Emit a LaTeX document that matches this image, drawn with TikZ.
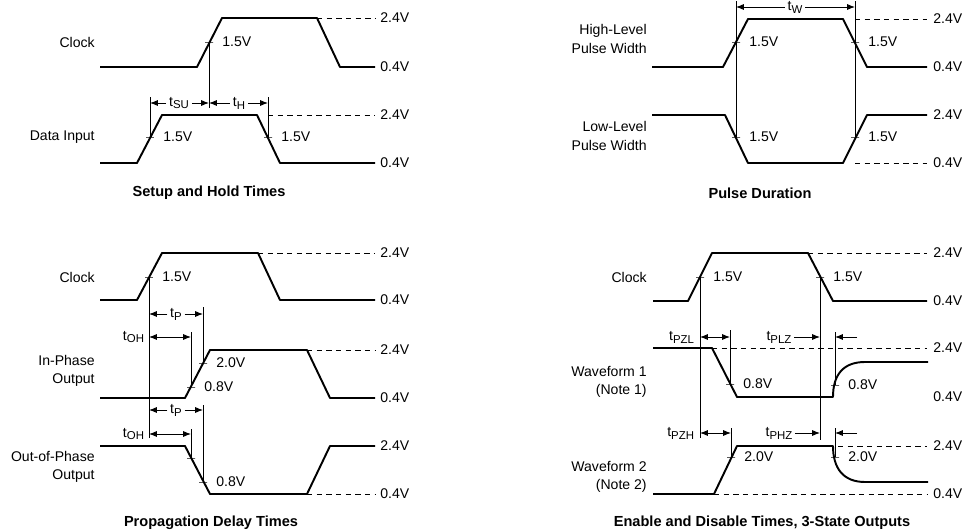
\documentclass[tikz,border=0pt]{standalone}
\usepackage{fontspec}
\setmainfont{Liberation Sans}
\usetikzlibrary{arrows.meta,calc}

\newcommand{\tsub}[1]{t\raisebox{-0.4ex}{\fontsize{6.5}{7}\selectfont #1}}

\tikzstyle{wave}=[line width=1.1pt,line join=round]
\tikzstyle{guide}=[line width=0.5pt]
\tikzstyle{refline}=[line width=0.5pt,dash pattern=on 3pt off 2.5pt]
\tikzstyle{tick}=[draw,line width=0.5pt,rectangle,minimum width=0.16cm,minimum height=0pt,inner sep=0pt]
\tikzstyle{volt}=[anchor=west,inner sep=0pt]
\tikzstyle{sig}=[anchor=east,align=right,inner sep=0pt]
\tikzstyle{dimlbl}=[inner sep=1.5pt]
\tikzstyle{dim}=[line width=0.5pt,-{Latex[length=4.5pt,width=3.5pt]}]
\tikzstyle{dimboth}=[line width=0.5pt,{Latex[length=4.5pt,width=3.5pt]}-{Latex[length=4.5pt,width=3.5pt]}]
\tikzstyle{title}=[font=\fontsize{8.3}{10}\selectfont\bfseries]

\begin{document}
\begin{tikzpicture}[x=0.02cm,y=-0.02cm,font=\fontsize{8}{10.5}\selectfont,label distance=1.5pt]
    \useasboundingbox (0,0) rectangle (965,531);

    % Setup and Hold Times
    \draw[wave] (100,67) -- (197,67) -- (222,18) -- (317,18) -- (340,67) -- (375,67);
    \draw[refline] (317,18) -- (375,18);
    \node[volt] (sv1) at (380,18) {2.4V};
    \node[volt] (sv2) at (380,67) {0.4V};
    \node[sig] (sclk) at (95,42) {Clock};
    \node[tick,label=right:1.5V] (ck1) at (209,42) {};
    \draw[guide] (ck1.center) -- ++(0,66);

    \draw[wave] (100,163) -- (137,163) -- (162,115) -- (257,115) -- (280,163) -- (375,163);
    \draw[refline] (268,115) -- (375,115);
    \node[volt] (sv3) at (380,115) {2.4V};
    \node[volt] (sv4) at (380,163) {0.4V};
    \node[sig] (sdin) at (95,137) {Data Input};
    \node[tick,label=right:1.5V] (dt1) at (150,137) {};
    \node[tick,label=right:1.5V] (dt2) at (268,137) {};
    \draw[guide] (dt1.center) -- ++(0,-40);
    \draw[guide] (dt2.center) -- ++(0,-40);
    \node[dimlbl] (tsu) at (179,103) {\tsub{SU}};
    \draw[dim] (tsu) -- (tsu -| dt1);
    \draw[dim] (tsu) -- (tsu -| ck1);
    \node[dimlbl] (th) at (239,103) {\tsub{H}};
    \draw[dim] (th) -- (th -| ck1);
    \draw[dim] (th) -- (th -| dt2);
    \node[title] (st) at (209,193) {Setup and Hold Times};

    % Pulse Duration
    \draw[wave] (652,67) -- (723,67) -- (748,19) -- (843,19) -- (867,67) -- (927,67);
    \draw[wave] (652,115) -- (725,115) -- (748,163) -- (843,163) -- (867,115) -- (927,115);
    \draw[refline] (855,19) -- (927,19);
    \draw[refline] (855,163) -- (927,163);
    \node[volt] (pv1) at (933,19) {2.4V};
    \node[volt] (pv2) at (933,67) {0.4V};
    \node[volt] (pv3) at (933,115) {2.4V};
    \node[volt] (pv4) at (933,163) {0.4V};
    \node[sig] (phi) at (647,39) {High-Level\\Pulse Width};
    \node[sig] (plo) at (647,136) {Low-Level\\Pulse Width};
    \node[tick,label=right:1.5V] (hp1) at (736,42) {};
    \node[tick,label=right:1.5V] (hp2) at (855,42) {};
    \node[tick,label=right:1.5V] (lp1) at (736,137) {};
    \node[tick,label=right:1.5V] (lp2) at (855,137) {};
    \draw[guide] (lp1.center) -- ++(0,-136);
    \draw[guide] (lp2.center) -- ++(0,-136);
    \node[dimlbl] (tw) at (795,7) {\tsub{W}};
    \draw[dim] (tw) -- (tw -| lp1);
    \draw[dim] (tw) -- (tw -| lp2);
    \node[title] (pt) at (760,193) {Pulse Duration};

    % Propagation Delay Times
    \draw[wave] (100,300) -- (137,300) -- (162,253) -- (258,253) -- (280,300) -- (375,300);
    \draw[wave] (100,398) -- (185,398) -- (210,350) -- (307,350) -- (330,398) -- (375,398);
    \draw[wave] (100,446) -- (185,446) -- (210,494) -- (307,494) -- (330,446) -- (375,446);
    \draw[refline] (258,253) -- (375,253);
    \draw[refline] (307,350) -- (375,350);
    \draw[refline] (307,494) -- (375,494);
    \node[volt] (dv1) at (380,253) {2.4V};
    \node[volt] (dv2) at (380,300) {0.4V};
    \node[volt] (dv3) at (380,350) {2.4V};
    \node[volt] (dv4) at (380,398) {0.4V};
    \node[volt] (dv5) at (380,446) {2.4V};
    \node[volt] (dv6) at (380,494) {0.4V};
    \node[sig] (dclk) at (95,277) {Clock};
    \node[sig] (dinp) at (95,371) {In-Phase\\Output};
    \node[sig] (doutp) at (95,467) {Out-of-Phase\\Output};
    \node[tick,label=right:1.5V] (pk1) at (149,277) {};
    \node[tick,label=right:2.0V] (pi1) at (203,363) {};
    \node[tick,label=right:0.8V] (pi2) at (191,387) {};
    \node[tick] (po1) at (191,458) {};
    \node[tick,label=right:0.8V] (po2) at (203,482) {};
    \draw[guide] (pk1.center) -- ++(0,161);
    \draw[guide] (pi1.center) -- ++(0,-56);
    \draw[guide] (pi2.center) -- ++(0,-55);
    \draw[guide] (po1.center) -- ++(0,-29);
    \draw[guide] (po2.center) -- ++(0,-77);
    \node[dimlbl] (tp1) at (176,314) {\tsub{P}};
    \draw[dim] (tp1) -- (tp1 -| pk1);
    \draw[dim] (tp1) -- (tp1 -| pi1);
    \node[dimlbl,anchor=east] (toh1) at (147,337) {\tsub{OH}};
    \draw[dimboth] (toh1.east -| pk1) -- (toh1.east -| pi2);
    \node[dimlbl] (tp2) at (176,410) {\tsub{P}};
    \draw[dim] (tp2) -- (tp2 -| pk1);
    \draw[dim] (tp2) -- (tp2 -| po2);
    \node[dimlbl,anchor=east] (toh2) at (147,434) {\tsub{OH}};
    \draw[dimboth] (toh2.east -| pk1) -- (toh2.east -| po1);
    \node[title] (dt) at (211,523) {Propagation Delay Times};

    % Enable and Disable Times
    \draw[wave] (653,301) -- (688,301) -- (712,253) -- (808,253) -- (833,301) -- (927,301);
    \draw[wave] (653,348) -- (712,348) -- (737,397) -- (833,397)
        .. controls (833,375) and (843,362) .. (865,362) -- (928,362);
    \draw[wave] (653,494) -- (714,494) -- (737,446) -- (833,446)
        .. controls (833,468) and (843,482) .. (865,482) -- (928,482);
    \draw[refline] (808,253) -- (927,253);
    \draw[refline] (712,348) -- (927,348);
    \draw[refline] (838,446) -- (927,446);
    \draw[refline] (714,494) -- (927,494);
    \node[volt] (ev1) at (933,253) {2.4V};
    \node[volt] (ev2) at (933,301) {0.4V};
    \node[volt] (ev3) at (933,348) {2.4V};
    \node[volt] (ev4) at (933,397) {0.4V};
    \node[volt] (ev5) at (933,446) {2.4V};
    \node[volt] (ev6) at (933,494) {0.4V};
    \node[sig] (eclk) at (647,277) {Clock};
    \node[sig] (ew1) at (647,382) {Waveform 1\\(Note 1)};
    \node[sig] (ew2) at (647,477) {Waveform 2\\(Note 2)};
    \node[tick,label=right:1.5V] (ec1) at (700,277) {};
    \node[tick,label=right:1.5V] (ec2) at (820,277) {};
    \node[tick,label=right:0.8V] (e11) at (730,384) {};
    \node[tick,label=right:0.8V] (e12) at (835,385) {};
    \node[tick,label=right:2.0V] (e21) at (731,457) {};
    \node[tick,label=right:2.0V] (e22) at (835,457) {};
    \draw[guide] (ec1.center) -- ++(0,161);
    \draw[guide] (ec2.center) -- ++(0,163);
    \draw[guide] (e11.center) -- ++(0,-54);
    \draw[guide] (e12.center) -- ++(0,-53);
    \draw[guide] (e21.center) -- ++(0,-29);
    \draw[guide] (e22.center) -- ++(0,-29);
    \node[dimlbl,anchor=east] (tpzl) at (697,337) {\tsub{PZL}};
    \draw[dimboth] (tpzl.east -| ec1) -- (tpzl.east -| e11);
    \node[dimlbl] (tplz) at (779,337) {\tsub{PLZ}};
    \draw[dim] (tplz) -- (tplz -| ec2);
    \draw[dim] ($(tplz -| e12)+(22,0)$) -- (tplz -| e12);
    \node[dimlbl,anchor=east] (tpzh) at (697,433) {\tsub{PZH}};
    \draw[dimboth] (tpzh.east -| ec1) -- (tpzh.east -| e21);
    \node[dimlbl] (tphz) at (779,433) {\tsub{PHZ}};
    \draw[dim] (tphz) -- (tphz -| ec2);
    \draw[dim] ($(tphz -| e22)+(22,0)$) -- (tphz -| e22);
    \node[title] (et) at (762,523) {Enable and Disable Times, 3-State Outputs};
\end{tikzpicture}
\end{document}
